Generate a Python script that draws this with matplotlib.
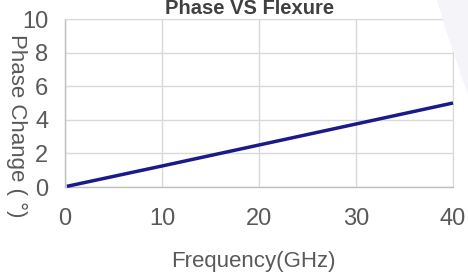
import matplotlib.pyplot as plt
from matplotlib.patches import Polygon

freq = [0.2, 10, 20, 30, 40]
phase = [0.04, 1.25, 2.5, 3.75, 5.0]
xticks = [0, 10, 20, 30, 40]
yticks = [0, 2, 4, 6, 8, 10]

plt.rcParams['font.family'] = ['Liberation Sans', 'DejaVu Sans']

fig = plt.figure(figsize=(4.68, 2.73), dpi=100)

# faint watermark shape in the top right corner
shape = [(437, 0), (446, 30), (456, 60), (468, 95), (468, 0)]
fig.patches.append(Polygon([(x / 468, 1 - y / 273) for x, y in shape], closed=True,
                           transform=fig.transFigure, facecolor='#f5f5f9', edgecolor='none', zorder=0))

ax = fig.add_axes([65 / 468, 1 - 187 / 273, 388 / 468, 168 / 273])
ax.patch.set_alpha(0)

ax.plot(freq, phase, color='#1c1a8a', linewidth=2.5, solid_capstyle='butt', clip_on=False, zorder=3)

ax.set_xlim(0, 40)
ax.set_ylim(0, 10)
ax.set_xticks(xticks)
ax.set_yticks(yticks)
ax.grid(True, color='#d9d9d9', linewidth=1.0)
ax.set_axisbelow(True)
for s in ['top', 'right']:
    ax.spines[s].set_color('#d9d9d9')
for s in ['left', 'bottom']:
    ax.spines[s].set_color('#bfbfbf')
    ax.spines[s].set_linewidth(1.0)
ax.tick_params(length=0, labelsize=17, colors='#595959')
ax.tick_params(axis='x', pad=15)
ax.tick_params(axis='y', pad=12)

fig.text(253 / 468, 1 - 267 / 273, 'Frequency(GHz)', fontsize=16, color='#595959',
         ha='center', va='baseline')
fig.text(17 / 468, 1 - 126 / 273, 'Phase Change ( °)', fontsize=16, color='#595959',
         rotation=-90, ha='center', va='center')
fig.text(250 / 468, 1 - 14.5 / 273, 'Phase VS Flexure', fontsize=14.5, fontweight='bold',
         color='#404040', ha='center', va='baseline')

fig.savefig('out.png', dpi=100)
